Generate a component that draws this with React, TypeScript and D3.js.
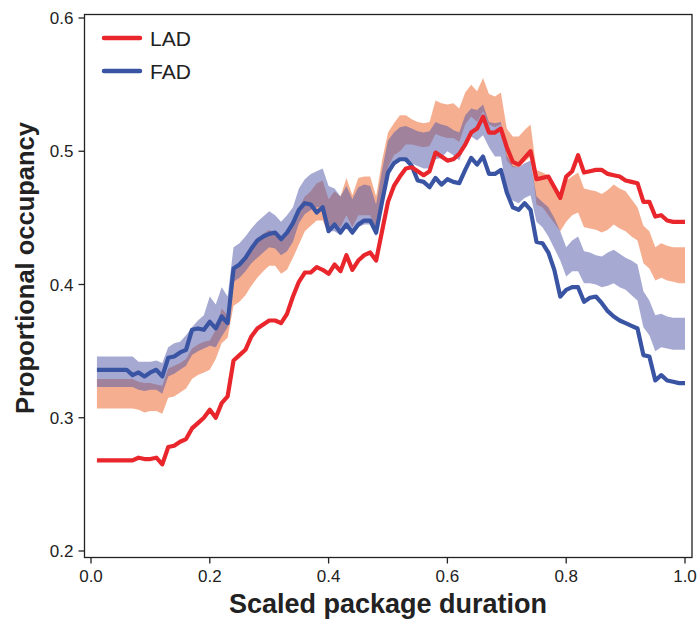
import React from "react";
import * as d3 from "d3";

// x grid: scaled package duration, 0.01 .. 1.00
const durations = d3.range(1, 101).map(i => i / 100);

// observed occupancy
const lad = [
  0.268, 0.268, 0.268, 0.268, 0.268, 0.268, 0.268, 0.270, 0.269, 0.269,
  0.270, 0.265, 0.278, 0.279, 0.282, 0.284, 0.292, 0.296, 0.300, 0.306,
  0.300, 0.311, 0.316, 0.343, 0.347, 0.351, 0.361, 0.367, 0.370, 0.373,
  0.373, 0.371, 0.378, 0.391, 0.402, 0.409, 0.409, 0.413, 0.411, 0.408,
  0.415, 0.410, 0.422, 0.411, 0.418, 0.422, 0.424, 0.418, 0.440, 0.462,
  0.474, 0.481, 0.487, 0.488, 0.485, 0.482, 0.485, 0.499, 0.496, 0.493,
  0.494, 0.498, 0.505, 0.514, 0.517, 0.526, 0.514, 0.514, 0.517, 0.503,
  0.492, 0.490, 0.495, 0.500, 0.479, 0.480, 0.481, 0.473, 0.465, 0.481,
  0.485, 0.497, 0.484, 0.485, 0.486, 0.486, 0.483, 0.482, 0.481, 0.478,
  0.477, 0.476, 0.462, 0.462, 0.451, 0.452, 0.448, 0.447, 0.447, 0.447,
];

const fad = [
  0.336, 0.336, 0.336, 0.336, 0.336, 0.336, 0.332, 0.334, 0.331, 0.334,
  0.336, 0.331, 0.345, 0.346, 0.349, 0.351, 0.366, 0.367, 0.366, 0.372,
  0.367, 0.376, 0.371, 0.412, 0.415, 0.420, 0.427, 0.433, 0.436, 0.438,
  0.439, 0.434, 0.439, 0.446, 0.456, 0.461, 0.460, 0.454, 0.458, 0.440,
  0.445, 0.439, 0.445, 0.439, 0.445, 0.448, 0.448, 0.439, 0.462, 0.484,
  0.491, 0.494, 0.494, 0.489, 0.478, 0.477, 0.473, 0.480, 0.475, 0.479,
  0.477, 0.476, 0.486, 0.495, 0.490, 0.496, 0.483, 0.483, 0.486, 0.469,
  0.458, 0.456, 0.461, 0.456, 0.432, 0.431, 0.424, 0.411, 0.391, 0.396,
  0.398, 0.398, 0.387, 0.390, 0.391, 0.386, 0.380, 0.376, 0.373, 0.371,
  0.369, 0.367, 0.347, 0.346, 0.328, 0.332, 0.328, 0.327, 0.326, 0.326,
];

// null-model bands
const ladLow = [
  0.307, 0.307, 0.307, 0.307, 0.307, 0.307, 0.307, 0.306, 0.304, 0.305,
  0.305, 0.303, 0.315, 0.316, 0.319, 0.322, 0.329, 0.332, 0.334, 0.336,
  0.344, 0.356, 0.360, 0.384, 0.387, 0.392, 0.399, 0.405, 0.410, 0.414,
  0.414, 0.408, 0.411, 0.420, 0.430, 0.440, 0.444, 0.448, 0.448, 0.438,
  0.446, 0.443, 0.452, 0.443, 0.452, 0.452, 0.452, 0.440, 0.466, 0.488,
  0.497, 0.500, 0.505, 0.505, 0.504, 0.503, 0.504, 0.513, 0.511, 0.510,
  0.510, 0.507, 0.520, 0.526, 0.522, 0.530, 0.520, 0.518, 0.520, 0.493,
  0.488, 0.488, 0.492, 0.496, 0.460, 0.458, 0.452, 0.446, 0.440, 0.447,
  0.452, 0.454, 0.443, 0.442, 0.441, 0.439, 0.441, 0.445, 0.442, 0.440,
  0.436, 0.433, 0.416, 0.412, 0.403, 0.405, 0.403, 0.402, 0.401, 0.401,
];

const ladHigh = [
  0.329, 0.329, 0.329, 0.329, 0.329, 0.329, 0.329, 0.327, 0.326, 0.326,
  0.325, 0.324, 0.337, 0.339, 0.341, 0.344, 0.352, 0.355, 0.357, 0.358,
  0.366, 0.382, 0.377, 0.412, 0.416, 0.421, 0.428, 0.433, 0.438, 0.441,
  0.438, 0.433, 0.439, 0.448, 0.458, 0.466, 0.470, 0.476, 0.478, 0.464,
  0.470, 0.466, 0.480, 0.467, 0.480, 0.481, 0.481, 0.466, 0.493, 0.514,
  0.521, 0.527, 0.527, 0.524, 0.522, 0.521, 0.522, 0.538, 0.536, 0.535,
  0.536, 0.532, 0.544, 0.550, 0.545, 0.555, 0.543, 0.541, 0.544, 0.517,
  0.511, 0.511, 0.516, 0.520, 0.486, 0.484, 0.482, 0.476, 0.468, 0.478,
  0.481, 0.484, 0.472, 0.471, 0.470, 0.468, 0.471, 0.475, 0.472, 0.470,
  0.464, 0.458, 0.444, 0.440, 0.428, 0.431, 0.429, 0.428, 0.428, 0.428,
];

const fadLow = [
  0.323, 0.323, 0.323, 0.323, 0.323, 0.323, 0.323, 0.321, 0.320, 0.321,
  0.321, 0.318, 0.331, 0.333, 0.336, 0.339, 0.347, 0.350, 0.352, 0.354,
  0.353, 0.361, 0.368, 0.402, 0.405, 0.410, 0.416, 0.420, 0.424, 0.428,
  0.427, 0.422, 0.425, 0.432, 0.446, 0.453, 0.456, 0.458, 0.458, 0.440,
  0.440, 0.437, 0.444, 0.437, 0.443, 0.445, 0.445, 0.436, 0.462, 0.482,
  0.490, 0.494, 0.492, 0.491, 0.489, 0.487, 0.487, 0.494, 0.495, 0.500,
  0.497, 0.493, 0.505, 0.511, 0.508, 0.512, 0.503, 0.496, 0.496, 0.470,
  0.463, 0.461, 0.465, 0.467, 0.447, 0.443, 0.436, 0.427, 0.418, 0.406,
  0.410, 0.410, 0.401, 0.401, 0.400, 0.398, 0.399, 0.401, 0.398, 0.396,
  0.392, 0.388, 0.368, 0.362, 0.350, 0.353, 0.352, 0.351, 0.351, 0.351,
];

const fadHigh = [
  0.346, 0.346, 0.346, 0.346, 0.346, 0.346, 0.346, 0.342, 0.342, 0.342,
  0.343, 0.341, 0.353, 0.356, 0.357, 0.362, 0.368, 0.373, 0.377, 0.391,
  0.385, 0.398, 0.391, 0.428, 0.431, 0.436, 0.442, 0.447, 0.451, 0.455,
  0.452, 0.447, 0.452, 0.458, 0.472, 0.479, 0.483, 0.485, 0.487, 0.474,
  0.472, 0.466, 0.474, 0.464, 0.473, 0.475, 0.474, 0.460, 0.486, 0.508,
  0.514, 0.518, 0.519, 0.517, 0.515, 0.514, 0.515, 0.522, 0.520, 0.519,
  0.516, 0.514, 0.527, 0.532, 0.531, 0.535, 0.522, 0.521, 0.522, 0.497,
  0.489, 0.488, 0.491, 0.493, 0.466, 0.462, 0.458, 0.450, 0.440, 0.428,
  0.433, 0.436, 0.425, 0.424, 0.422, 0.421, 0.424, 0.426, 0.423, 0.420,
  0.418, 0.415, 0.395, 0.388, 0.377, 0.378, 0.376, 0.375, 0.375, 0.375,
];

const xTicks = [0, 0.2, 0.4, 0.6, 0.8, 1.0];
const yTicks = [0.2, 0.3, 0.4, 0.5, 0.6];

const FONT = "'Liberation Sans', Arial, Helvetica, sans-serif";
const RED = "#e8262b";
const BLUE = "#3a54a4";

export default function App() {
  const width = 698;
  const height = 619;

  const x = d3.scaleLinear().domain([0, 1]).range([91, 685]);
  const y = d3.scaleLinear().domain([0.2, 0.6]).range([551, 18]);

  const frame = { left: 84.5, right: 692, top: 14.5, bottom: 557.5 };

  const band = (lo: number[], hi: number[]) =>
    d3.area<number>()
      .x(d => x(d))
      .y0((d, i) => y(lo[i]))
      .y1((d, i) => y(hi[i]))(durations);

  const line = (vals: number[]) =>
    d3.line<number>()
      .x(d => x(d))
      .y((d, i) => y(vals[i]))(durations);

  return (
    <svg width={width} height={height} style={{ position: "absolute", left: 0, top: 0 }}
      fontFamily={FONT}>
      <rect x={0} y={0} width={width} height={height} fill="white" />

      <path d={band(ladLow, ladHigh) || ""} fill="#f4a684" fillOpacity={0.9} />
      <path d={band(fadLow, fadHigh) || ""} fill="#4d55a8" fillOpacity={0.5} />

      <path d={line(fad) || ""} fill="none" stroke={BLUE} strokeWidth={4.2} strokeLinejoin="round" />
      <path d={line(lad) || ""} fill="none" stroke={RED} strokeWidth={4.2} strokeLinejoin="round" />

      <rect x={frame.left} y={frame.top} width={frame.right - frame.left}
        height={frame.bottom - frame.top} fill="none" stroke="#222" strokeWidth={1.3} />

      {yTicks.map(t => (
        <g key={"y" + t}>
          <line x1={frame.left} x2={frame.left - 6} y1={y(t)} y2={y(t)} stroke="#222" strokeWidth={1.3} />
          <text x={frame.left - 11} y={y(t) + 6} textAnchor="end" fontSize={17} fill="#222">
            {d3.format(".1f")(t)}
          </text>
        </g>
      ))}

      {xTicks.map(t => (
        <g key={"x" + t}>
          <line x1={x(t)} x2={x(t)} y1={frame.bottom} y2={frame.bottom + 6} stroke="#222" strokeWidth={1.3} />
          <text x={x(t)} y={582} textAnchor="middle" fontSize={17} fill="#222">
            {d3.format(".1f")(t)}
          </text>
        </g>
      ))}

      <text x={388} y={613} textAnchor="middle" fontSize={27} fontWeight="bold" fill="#222">
        Scaled package duration
      </text>
      <text transform="translate(34,268) rotate(-90)" textAnchor="middle" fontSize={25.5}
        fontWeight="bold" fill="#222">
        Proportional occupancy
      </text>

      <g>
        <line x1={104} x2={140} y1={38} y2={38} stroke={RED} strokeWidth={4.5} strokeLinecap="round" />
        <text x={150} y={45.5} fontSize={21} fill="#222">LAD</text>
        <line x1={104} x2={140} y1={71} y2={71} stroke={BLUE} strokeWidth={4.5} strokeLinecap="round" />
        <text x={150} y={78.5} fontSize={21} fill="#222">FAD</text>
      </g>
    </svg>
  );
}
